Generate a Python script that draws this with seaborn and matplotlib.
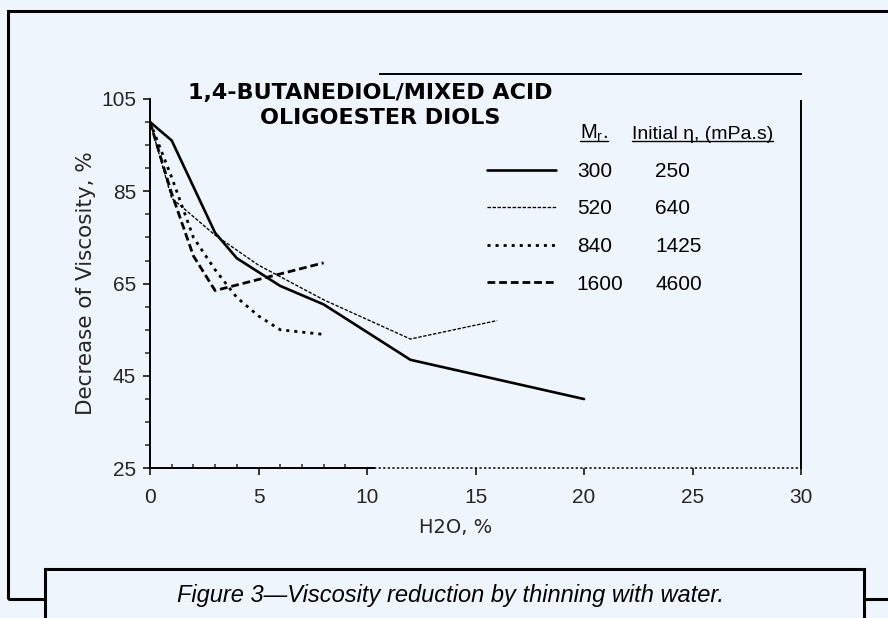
import matplotlib
matplotlib.use("Agg")
import matplotlib.pyplot as plt
import seaborn as sns
import pandas as pd
from matplotlib.patches import Rectangle
from matplotlib.lines import Line2D
from matplotlib.ticker import FixedLocator
from matplotlib import font_manager as fm

# ---------------- data ----------------
mr_labels = ["300", "520", "840", "1600"]
initial_visc = ["250", "640", "1425", "4600"]

h2o_300 = [0, 1, 3, 4, 6, 8, 12, 20]
visc_300 = [100, 96, 76, 70.5, 64.5, 60.5, 48.5, 40]

h2o_520 = [0, 1, 3, 5, 8, 12, 16]
visc_520 = [100, 83.5, 75.5, 69, 61.5, 53, 57]

h2o_840 = [0, 1, 2, 3, 4, 5, 6, 8]
visc_840 = [100, 88, 75, 68, 62, 58, 55, 54]

h2o_1600 = [0, 1, 2, 3, 8]
visc_1600 = [100, 84.5, 71, 63.5, 69.5]

x_ticks = [0, 5, 10, 15, 20, 25, 30]
y_ticks = [25, 45, 65, 85, 105]
title_lines = ["1,4-BUTANEDIOL/MIXED ACID", "OLIGOESTER DIOLS"]
x_label = "H2O, %"
y_label = "Decrease of Viscosity, %"
header_mr = r"M$_\mathregular{r}$."
header_init = "Initial \u03b7, (mPa.s)"
caption = "Figure 3\u2014Viscosity reduction by thinning with water."

# ---------------- style ----------------
BG = "#eef5fc"
sns.set_style("ticks")
names = {f.name for f in fm.fontManager.ttflist}
NARROW = "Liberation Sans Narrow" if "Liberation Sans Narrow" in names else "Liberation Sans"
plt.rcParams["font.family"] = ["Liberation Sans", "DejaVu Sans"]
plt.rcParams["axes.linewidth"] = 1.4
plt.rcParams["text.color"] = "black"

fig = plt.figure(figsize=(8.88, 6.18), dpi=100, facecolor=BG)
L, R, B, T = 150, 801, 468.3, 74
ax = fig.add_axes([L / 888, 1 - B / 618, (R - L) / 888, (B - T) / 618])
ax.set_facecolor(BG)

series = [
    (h2o_300, visc_300, dict(lw=1.9, linestyle="-")),
    (h2o_520, visc_520, dict(lw=0.95, linestyle=(0, (2.6, 1.2)))),
    (h2o_840, visc_840, dict(lw=2.0, linestyle=(0, (1.1, 1.8)))),
    (h2o_1600, visc_1600, dict(lw=2.0, linestyle=(0, (2.8, 1.4)))),
]
for (xs, ys, kw), lab in zip(series, mr_labels):
    df = pd.DataFrame({"h2o": xs, "visc": ys})
    sns.lineplot(data=df, x="h2o", y="visc", ax=ax, color="black",
                 label=lab, legend=False, **kw)

ax.set_xlim(0, 30)
ax.set_ylim(25, 110.4)

# spines (scan-like partial frame)
for s in ax.spines.values():
    s.set_color("black")
    s.set_linewidth(1.4)
ax.spines["left"].set_bounds(25, 105)
ax.spines["top"].set_bounds(10.6, 30)
ax.spines["right"].set_bounds(25, 104.5)
ax.spines["bottom"].set_bounds(0, 10.3)
ax.axhline(25, xmin=10.3 / 30, xmax=1, color="black", lw=1.1,
           ls=(0, (1.5, 1.5)), clip_on=False)

ax.xaxis.set_major_locator(FixedLocator(x_ticks))
ax.yaxis.set_major_locator(FixedLocator(y_ticks))
ax.xaxis.set_minor_locator(FixedLocator([v for v in range(1, 10) if v % 5]))
ax.yaxis.set_minor_locator(FixedLocator([v for v in range(30, 105, 5) if (v - 25) % 20]))
ax.tick_params(axis="x", which="major", direction="out", length=5, width=1.3,
               pad=9.5, labelsize=15)
ax.tick_params(axis="x", which="minor", direction="in", length=3, width=1.1)
ax.tick_params(axis="y", which="major", direction="out", length=5, width=1.3,
               pad=5, labelsize=15)
ax.tick_params(axis="y", which="minor", direction="out", length=3.5, width=1.1)
ax.tick_params(right=False, top=False, which="both")

ax.set_xlabel(x_label, fontsize=14, family=["DejaVu Sans"])
ax.set_ylabel(y_label, fontsize=15.5, family=["DejaVu Sans"])
ax.xaxis.set_label_coords(0.47, -0.125)
ax.yaxis.set_label_coords(-0.083, 0.47)

# title inside axes
ax.text(0.338, 0.952, title_lines[0], transform=ax.transAxes, ha="center",
        va="center", fontsize=16, fontweight="bold", family=["DejaVu Sans"])
ax.text(0.353, 0.889, title_lines[1], transform=ax.transAxes, ha="center",
        va="center", fontsize=16, fontweight="bold", family=["DejaVu Sans"])

# legend: line keys + Mr values, then initial viscosity column
leg1 = ax.legend(handles=ax.lines[:4], labels=mr_labels, loc="upper left",
                 bbox_to_anchor=(0.518, 0.777), frameon=False, fontsize=15,
                 handlelength=3.3, handletextpad=1.0, labelspacing=0.89,
                 borderpad=0, borderaxespad=0)
ax.add_artist(leg1)
blank = [Line2D([], [], alpha=0) for _ in initial_visc]
ax.legend(handles=blank, labels=initial_visc, loc="upper left",
          bbox_to_anchor=(0.776, 0.777), frameon=False, fontsize=15,
          handlelength=0, handletextpad=0, labelspacing=0.89,
          borderpad=0, borderaxespad=0)

t_mr = ax.text(0.660, 0.836, header_mr, transform=ax.transAxes, ha="left",
               va="baseline", fontsize=14.5)
t_in = ax.text(0.740, 0.836, header_init, transform=ax.transAxes, ha="left",
               va="baseline", fontsize=14)

# frame and caption box
fig.add_artist(Rectangle((8 / 888, 1 - 599 / 618), 1.2, (599 - 11) / 618,
                         transform=fig.transFigure, fill=False,
                         edgecolor="black", lw=2.2, zorder=0))
fig.add_artist(Rectangle((44.5 / 888, -0.1), (864 - 44.5) / 888, 0.1 + (618 - 569) / 618,
                         transform=fig.transFigure, facecolor=BG,
                         edgecolor="black", lw=2.2, zorder=5))
fig.text(450 / 888, (618 - 602) / 618, caption, ha="center", va="baseline",
         fontsize=17, style="italic", family=[NARROW, "DejaVu Sans"], zorder=6)

# underline headers
fig.canvas.draw()
inv = ax.transAxes.inverted()
for t in (t_mr, t_in):
    bb = t.get_window_extent()
    x0 = inv.transform((bb.x0, 0))[0]
    x1 = inv.transform((bb.x1, 0))[0]
    ax.plot([x0, x1], [0.829, 0.829], transform=ax.transAxes, color="black",
            lw=1.0, clip_on=False)

fig.savefig("out.png", dpi=100, facecolor=BG)
